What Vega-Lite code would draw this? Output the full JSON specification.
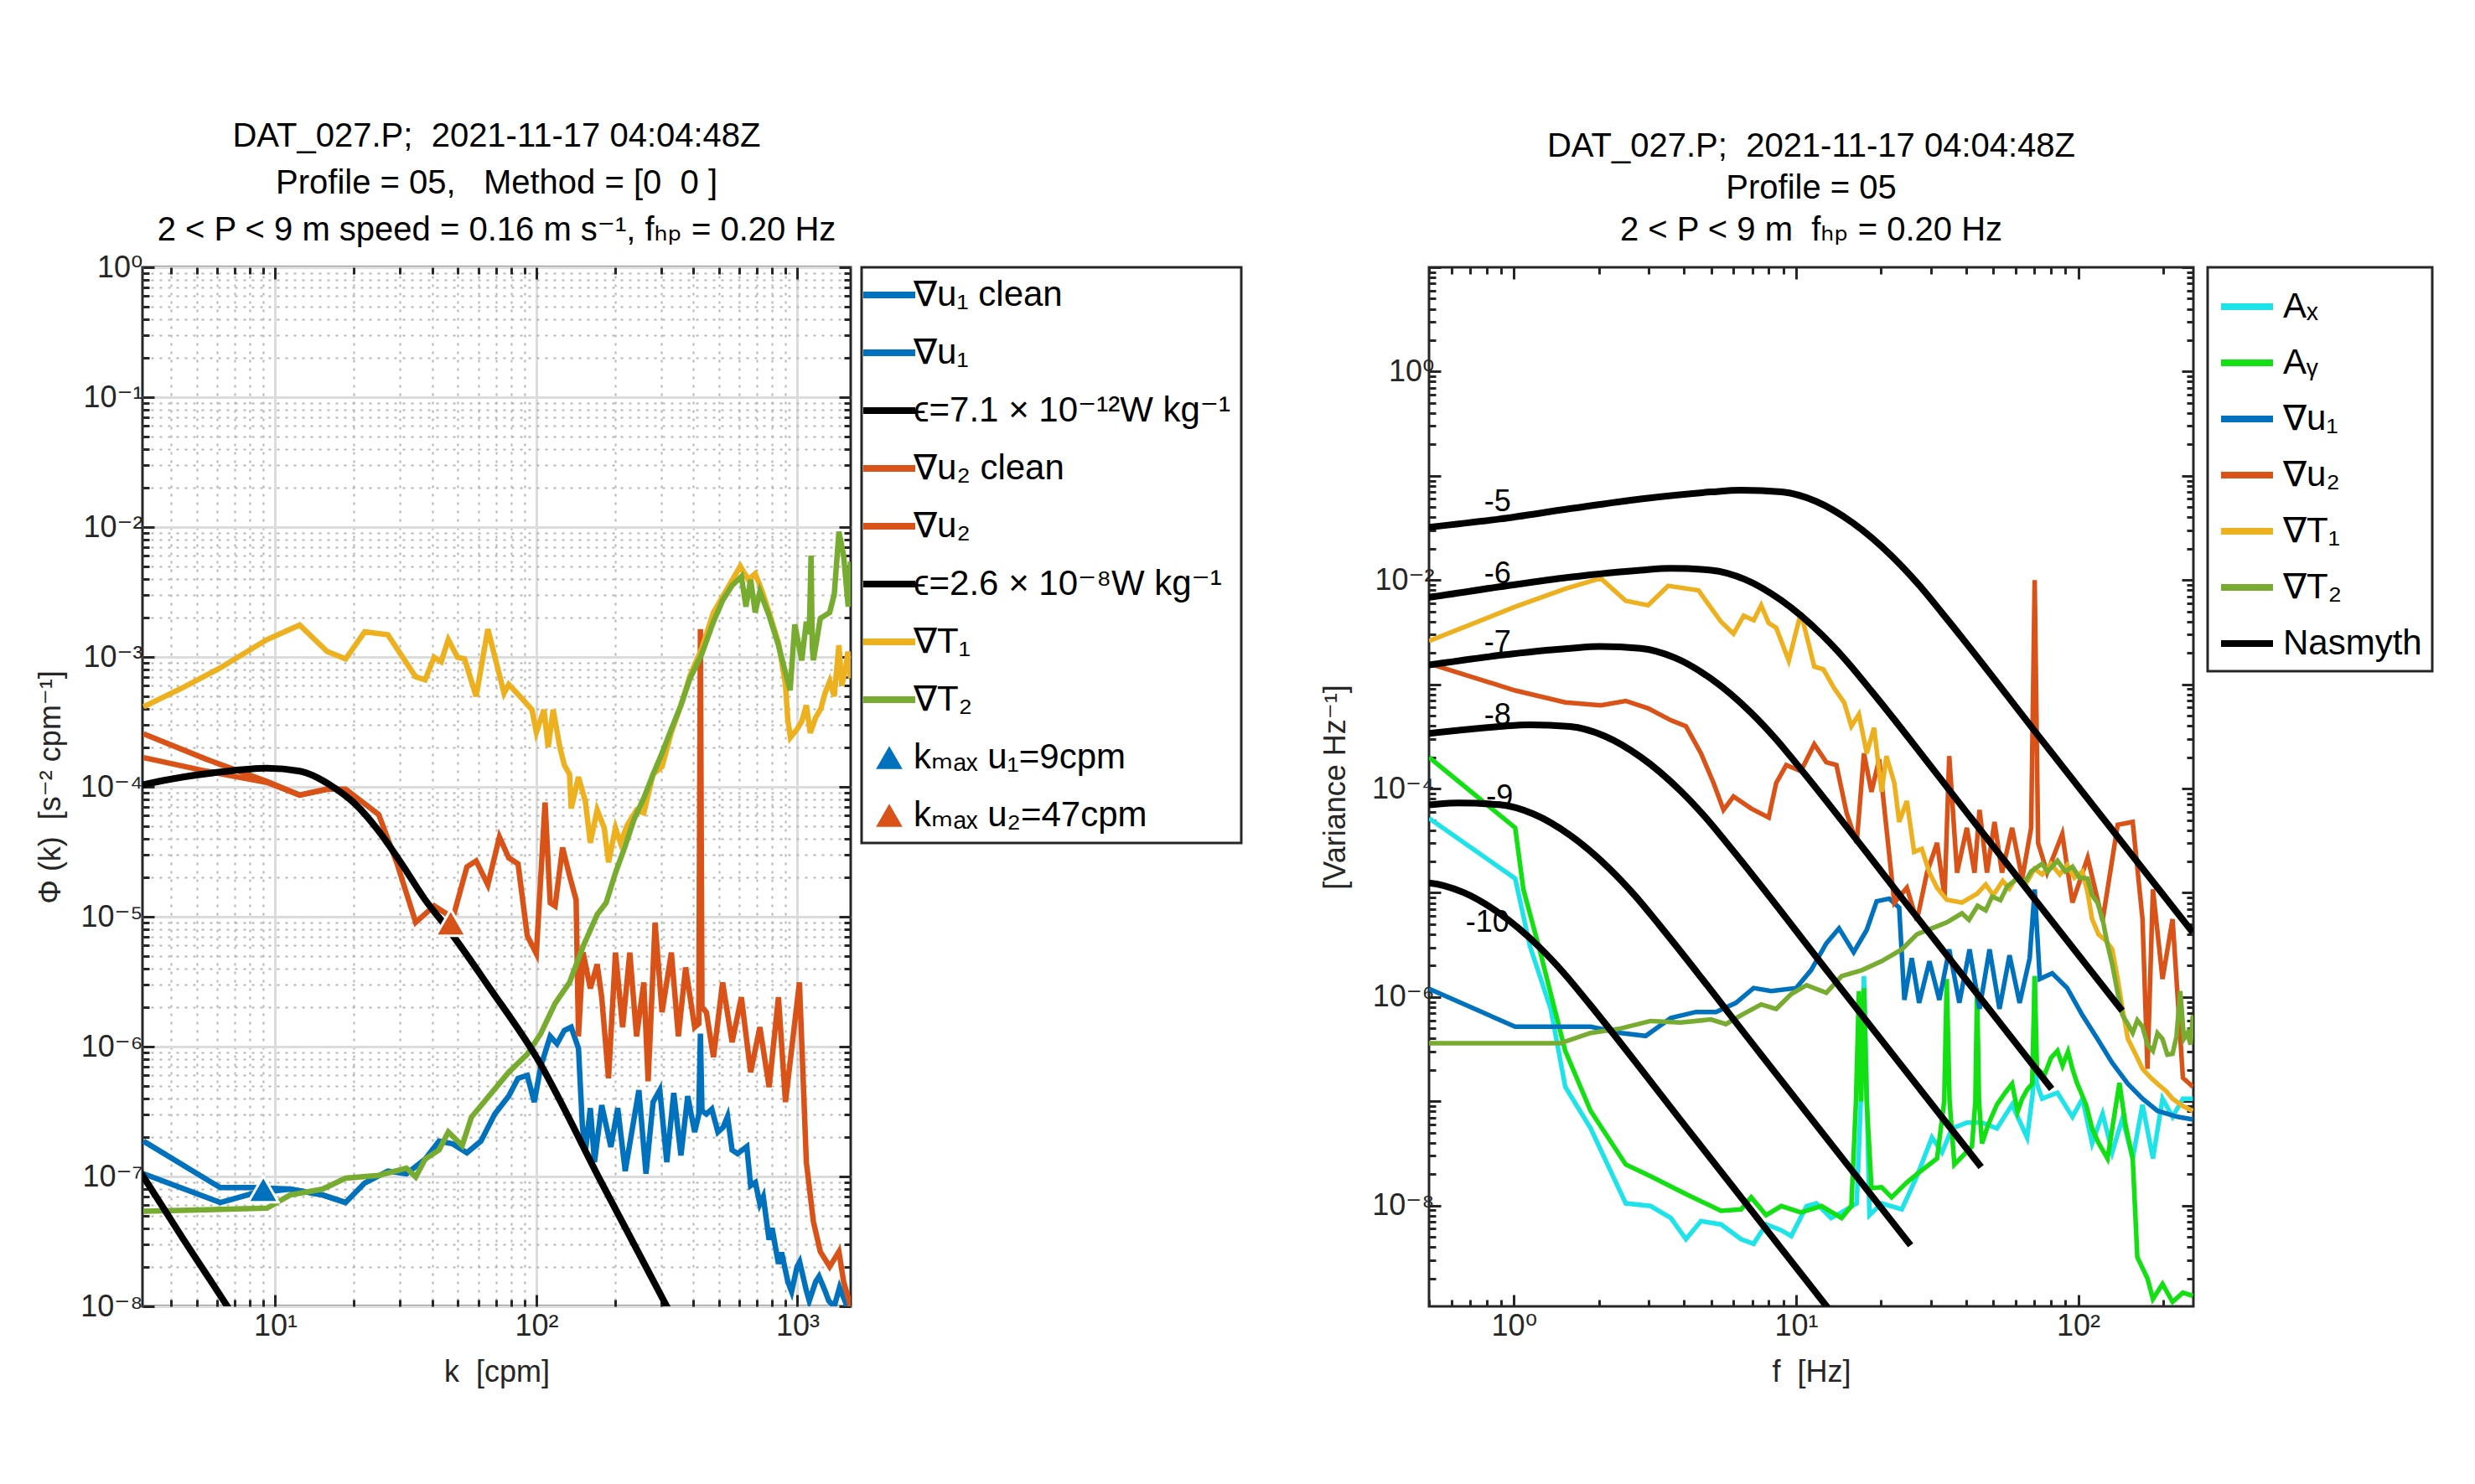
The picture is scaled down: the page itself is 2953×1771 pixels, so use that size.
{
  "$schema": "https://vega.github.io/schema/vega-lite/v6.json",
  "background": "white",
  "padding": {"left": 40, "top": 141, "right": 5, "bottom": 5},
  "spacing": 690,
  "bounds": "flush",
  "resolve": {"scale": {"color": "independent", "fill": "independent"}, "legend": {"color": "independent"}},
  "config": {
    "font": "Liberation Sans, DejaVu Sans",
    "view": {"stroke": "#262626", "strokeWidth": 3},
    "axis": {
      "domain": false,
      "labelFont": "Liberation Sans, DejaVu Sans",
      "titleFont": "Liberation Sans, DejaVu Sans",
      "labelFontSize": 36,
      "titleFontSize": 36,
      "titleFontWeight": "normal",
      "labelColor": "#262626",
      "titleColor": "#262626",
      "tickColor": "#262626",
      "tickWidth": 3,
      "labelOverlap": false,
      "labelBound": false,
      "labelFlush": false
    },
    "legend": {
      "labelFont": "Liberation Sans, DejaVu Sans",
      "labelFontSize": 42,
      "labelColor": "black",
      "symbolStrokeWidth": 8,
      "symbolSize": 3844,
      "labelOffset": 8,
      "padding": 12,
      "rowPadding": 27,
      "strokeColor": "#262626",
      "fillColor": "white",
      "labelLimit": 800
    },
    "title": {
      "font": "Liberation Sans, DejaVu Sans",
      "fontSize": 40,
      "fontWeight": "normal",
      "color": "black",
      "anchor": "middle",
      "offset": 6
    }
  },
  "datasets": {
    "L": [
      {"s":"u1c","k":3.13,"v":1.05e-7},{"s":"u1c","k":6.16,"v":6.3e-8},{"s":"u1c","k":8.2,"v":7.4e-8},{"s":"u1c","k":11.4,"v":8.0e-8},{"s":"u1c","k":15.2,"v":7.2e-8},{"s":"u1c","k":18.6,"v":6.3e-8},
      {"s":"u1","k":3.13,"v":1.87e-7},{"s":"u1","k":6.16,"v":8.2e-8},{"s":"u1","k":8.2,"v":8.2e-8},{"s":"u1","k":11.4,"v":8.0e-8},{"s":"u1","k":15.2,"v":7.2e-8},{"s":"u1","k":18.6,"v":6.3e-8},{"s":"u1","k":22.0,"v":8.9e-8},{"s":"u1","k":27.0,"v":1.1e-7},{"s":"u1","k":31.8,"v":1.05e-7},{"s":"u1","k":37.5,"v":1.36e-7},{"s":"u1","k":42.4,"v":1.87e-7},{"s":"u1","k":47.9,"v":1.78e-7},{"s":"u1","k":54.2,"v":1.52e-7},{"s":"u1","k":61.3,"v":1.87e-7},{"s":"u1","k":69.3,"v":3.02e-7},{"s":"u1","k":78.4,"v":4.16e-7},{"s":"u1","k":85.1,"v":5.7e-7},{"s":"u1","k":92.3,"v":6.0e-7},{"s":"u1","k":98.2,"v":3.74e-7},{"s":"u1","k":104,"v":7.06e-7},{"s":"u1","k":113,"v":1.2e-6},{"s":"u1","k":120,"v":1.05e-6},{"s":"u1","k":128,"v":1.33e-6},{"s":"u1","k":136,"v":1.41e-6},{"s":"u1","k":145,"v":9.7e-7},{"s":"u1","k":150,"v":2.5e-7},{"s":"u1","k":154,"v":1.52e-7},{"s":"u1","k":161,"v":3.36e-7},{"s":"u1","k":167,"v":1.29e-7},{"s":"u1","k":178,"v":3.54e-7},{"s":"u1","k":193,"v":1.69e-7},{"s":"u1","k":205,"v":3.36e-7},{"s":"u1","k":219,"v":1.1e-7},{"s":"u1","k":232,"v":2.2e-7},{"s":"u1","k":247,"v":4.62e-7},{"s":"u1","k":263,"v":1.05e-7},{"s":"u1","k":280,"v":3.74e-7},{"s":"u1","k":297,"v":4.62e-7},{"s":"u1","k":316,"v":1.29e-7},{"s":"u1","k":336,"v":4.4e-7},{"s":"u1","k":358,"v":1.45e-7},{"s":"u1","k":380,"v":4.16e-7},{"s":"u1","k":404,"v":2.2e-7},{"s":"u1","k":419,"v":3.0e-7},{"s":"u1","k":425,"v":1.26e-6},{"s":"u1","k":431,"v":3.2e-7},{"s":"u1","k":448,"v":3.02e-7},{"s":"u1","k":470,"v":3.3e-7},{"s":"u1","k":496,"v":2.2e-7},{"s":"u1","k":520,"v":2.4e-7},{"s":"u1","k":540,"v":2.9e-7},{"s":"u1","k":562,"v":1.6e-7},{"s":"u1","k":590,"v":1.5e-7},{"s":"u1","k":640,"v":1.7e-7},{"s":"u1","k":662,"v":8.5e-8},{"s":"u1","k":690,"v":9e-8},{"s":"u1","k":718,"v":6.15e-8},{"s":"u1","k":740,"v":7e-8},{"s":"u1","k":779,"v":3.26e-8},{"s":"u1","k":800,"v":4e-8},{"s":"u1","k":846,"v":2.13e-8},{"s":"u1","k":870,"v":2.6e-8},{"s":"u1","k":919,"v":1.55e-8},{"s":"u1","k":950,"v":1.3e-8},{"s":"u1","k":997,"v":2.02e-8},{"s":"u1","k":1020,"v":2.2e-8},{"s":"u1","k":1082,"v":1.32e-8},{"s":"u1","k":1110,"v":1.1e-8},{"s":"u1","k":1175,"v":1.55e-8},{"s":"u1","k":1210,"v":1.7e-8},{"s":"u1","k":1275,"v":1.32e-8},{"s":"u1","k":1320,"v":1.1e-8},{"s":"u1","k":1384,"v":1.0e-8},{"s":"u1","k":1450,"v":1.4e-8},{"s":"u1","k":1550,"v":1.0e-8},{"s":"u1","k":1600,"v":9e-9},
      {"s":"u2c","k":3.13,"v":1.68e-4},{"s":"u2c","k":5.45,"v":1.32e-4},{"s":"u2c","k":9.29,"v":1.08e-4},{"s":"u2c","k":12.4,"v":8.64e-5},{"s":"u2c","k":15.8,"v":9.6e-5},
      {"s":"u2","k":3.13,"v":2.56e-4},{"s":"u2","k":5.45,"v":1.63e-4},{"s":"u2","k":9.29,"v":1.1e-4},{"s":"u2","k":12.4,"v":8.64e-5},{"s":"u2","k":15.8,"v":9.6e-5},{"s":"u2","k":18.6,"v":9.6e-5},{"s":"u2","k":24.9,"v":6.12e-5},{"s":"u2","k":29.3,"v":2.55e-5},{"s":"u2","k":34.5,"v":9.06e-6},{"s":"u2","k":40.6,"v":1.21e-5},{"s":"u2","k":47.9,"v":9.8e-6},{"s":"u2","k":54.2,"v":2.42e-5},{"s":"u2","k":58.8,"v":2.69e-5},{"s":"u2","k":65.2,"v":1.76e-5},{"s":"u2","k":72.2,"v":4.11e-5},{"s":"u2","k":78.4,"v":2.84e-5},{"s":"u2","k":85.1,"v":2.55e-5},{"s":"u2","k":92.3,"v":7.14e-6},{"s":"u2","k":100,"v":5.2e-6},{"s":"u2","k":108,"v":7.57e-5},{"s":"u2","k":113,"v":1.28e-5},{"s":"u2","k":118,"v":1.21e-5},{"s":"u2","k":126,"v":3.41e-5},{"s":"u2","k":134,"v":2.07e-5},{"s":"u2","k":142,"v":1.35e-5},{"s":"u2","k":145,"v":1.2e-6},{"s":"u2","k":151,"v":5.3e-6},{"s":"u2","k":161,"v":2.8e-6},{"s":"u2","k":171,"v":4.3e-6},{"s":"u2","k":178,"v":2.4e-6},{"s":"u2","k":189,"v":5.7e-7},{"s":"u2","k":201,"v":5.3e-6},{"s":"u2","k":214,"v":1.41e-6},{"s":"u2","k":228,"v":5.3e-6},{"s":"u2","k":242,"v":1.2e-6},{"s":"u2","k":258,"v":3.12e-6},{"s":"u2","k":268,"v":5.4e-7},{"s":"u2","k":285,"v":9e-6},{"s":"u2","k":303,"v":1.84e-6},{"s":"u2","k":329,"v":5.3e-6},{"s":"u2","k":350,"v":1.2e-6},{"s":"u2","k":373,"v":4.07e-6},{"s":"u2","k":404,"v":1.41e-6},{"s":"u2","k":419,"v":1.5e-6},{"s":"u2","k":425,"v":1.64e-3},{"s":"u2","k":431,"v":2e-6},{"s":"u2","k":448,"v":1.84e-6},{"s":"u2","k":477,"v":8.3e-7},{"s":"u2","k":517,"v":3.12e-6},{"s":"u2","k":562,"v":1.08e-6},{"s":"u2","k":610,"v":2.4e-6},{"s":"u2","k":662,"v":6.35e-7},{"s":"u2","k":718,"v":1.41e-6},{"s":"u2","k":779,"v":4.88e-7},{"s":"u2","k":846,"v":2.4e-6},{"s":"u2","k":900,"v":3.74e-7},{"s":"u2","k":957,"v":1.08e-6},{"s":"u2","k":1018,"v":3.12e-6},{"s":"u2","k":1082,"v":1.29e-7},{"s":"u2","k":1151,"v":4.5e-8},{"s":"u2","k":1224,"v":2.64e-8},{"s":"u2","k":1329,"v":2.02e-8},{"s":"u2","k":1442,"v":2.64e-8},{"s":"u2","k":1503,"v":1.55e-8},{"s":"u2","k":1598,"v":1.0e-8},
      {"s":"T1","k":3.13,"v":4.13e-4},{"s":"T1","k":4.44,"v":5.83e-4},{"s":"T1","k":6.16,"v":8.24e-4},{"s":"T1","k":9.29,"v":1.36e-3},{"s":"T1","k":12.4,"v":1.76e-3},{"s":"T1","k":15.8,"v":1.1e-3},{"s":"T1","k":18.6,"v":9.66e-4},{"s":"T1","k":22.0,"v":1.56e-3},{"s":"T1","k":27.0,"v":1.48e-3},{"s":"T1","k":34.5,"v":7.03e-4},{"s":"T1","k":37.5,"v":6.67e-4},{"s":"T1","k":40.6,"v":9.93e-4},{"s":"T1","k":43.2,"v":9.17e-4},{"s":"T1","k":46.0,"v":1.36e-3},{"s":"T1","k":49.9,"v":9.93e-4},{"s":"T1","k":53.1,"v":9.66e-4},{"s":"T1","k":58.8,"v":4.97e-4},{"s":"T1","k":65.2,"v":1.64e-3},{"s":"T1","k":75.2,"v":5.25e-4},{"s":"T1","k":78.4,"v":6.15e-4},{"s":"T1","k":88.6,"v":4.72e-4},{"s":"T1","k":96.2,"v":3.92e-4},{"s":"T1","k":100,"v":2.63e-4},{"s":"T1","k":107,"v":3.92e-4},{"s":"T1","k":111,"v":2.02e-4},{"s":"T1","k":116,"v":3.92e-4},{"s":"T1","k":123,"v":2.02e-4},{"s":"T1","k":128,"v":1.47e-4},{"s":"T1","k":134,"v":1.25e-4},{"s":"T1","k":136,"v":6.81e-5},{"s":"T1","k":145,"v":1.19e-4},{"s":"T1","k":154,"v":7.78e-5},{"s":"T1","k":161,"v":3.7e-5},{"s":"T1","k":171,"v":6.63e-5},{"s":"T1","k":182,"v":4.82e-5},{"s":"T1","k":189,"v":2.62e-5},{"s":"T1","k":201,"v":4.82e-5},{"s":"T1","k":210,"v":3.7e-5},{"s":"T1","k":223,"v":5.08e-5},{"s":"T1","k":242,"v":6.63e-5},{"s":"T1","k":258,"v":6.3e-5},{"s":"T1","k":280,"v":1.25e-4},{"s":"T1","k":303,"v":1.43e-4},{"s":"T1","k":329,"v":2.63e-4},{"s":"T1","k":358,"v":4.25e-4},{"s":"T1","k":388,"v":7.21e-4},{"s":"T1","k":430,"v":1.16e-3},{"s":"T1","k":477,"v":2.2e-3},{"s":"T1","k":539,"v":3.36e-3},{"s":"T1","k":604,"v":5.0e-3},{"s":"T1","k":648,"v":3.94e-3},{"s":"T1","k":689,"v":4.38e-3},{"s":"T1","k":733,"v":3.19e-3},{"s":"T1","k":779,"v":2.2e-3},{"s":"T1","k":846,"v":1.29e-3},{"s":"T1","k":900,"v":6.15e-4},{"s":"T1","k":919,"v":3.26e-4},{"s":"T1","k":940,"v":2.4e-4},{"s":"T1","k":997,"v":2.78e-4},{"s":"T1","k":1040,"v":3.2e-4},{"s":"T1","k":1082,"v":4.25e-4},{"s":"T1","k":1120,"v":2.6e-4},{"s":"T1","k":1175,"v":3.43e-4},{"s":"T1","k":1230,"v":4.0e-4},{"s":"T1","k":1275,"v":5.25e-4},{"s":"T1","k":1330,"v":6.5e-4},{"s":"T1","k":1384,"v":4.97e-4},{"s":"T1","k":1442,"v":1.23e-3},{"s":"T1","k":1480,"v":6.0e-4},{"s":"T1","k":1534,"v":8.46e-4},{"s":"T1","k":1560,"v":1.1e-3},{"s":"T1","k":1598,"v":6.84e-4},
      {"s":"T2","k":3.13,"v":5.4e-8},{"s":"T2","k":9.29,"v":5.7e-8},{"s":"T2","k":11.4,"v":7.2e-8},{"s":"T2","k":15.2,"v":8.0e-8},{"s":"T2","k":18.6,"v":9.7e-8},{"s":"T2","k":24.9,"v":1.02e-7},{"s":"T2","k":31.8,"v":1.16e-7},{"s":"T2","k":34.5,"v":9.9e-8},{"s":"T2","k":37.5,"v":1.36e-7},{"s":"T2","k":42.4,"v":1.6e-7},{"s":"T2","k":46.0,"v":2.2e-7},{"s":"T2","k":52.0,"v":1.73e-7},{"s":"T2","k":56.4,"v":2.86e-7},{"s":"T2","k":66.5,"v":4.26e-7},{"s":"T2","k":78.4,"v":6.35e-7},{"s":"T2","k":92.3,"v":8.73e-7},{"s":"T2","k":104,"v":1.26e-6},{"s":"T2","k":118,"v":2.15e-6},{"s":"T2","k":134,"v":3.12e-6},{"s":"T2","k":151,"v":5.9e-6},{"s":"T2","k":171,"v":1.04e-5},{"s":"T2","k":185,"v":1.28e-5},{"s":"T2","k":201,"v":2.18e-5},{"s":"T2","k":219,"v":3.51e-5},{"s":"T2","k":237,"v":5.65e-5},{"s":"T2","k":258,"v":8.2e-5},{"s":"T2","k":280,"v":1.25e-4},{"s":"T2","k":303,"v":1.82e-4},{"s":"T2","k":329,"v":2.78e-4},{"s":"T2","k":358,"v":4.25e-4},{"s":"T2","k":388,"v":6.84e-4},{"s":"T2","k":430,"v":1.05e-3},{"s":"T2","k":477,"v":1.87e-3},{"s":"T2","k":517,"v":2.72e-3},{"s":"T2","k":562,"v":3.55e-3},{"s":"T2","k":610,"v":4.16e-3},{"s":"T2","k":635,"v":2.44e-3},{"s":"T2","k":662,"v":3.94e-3},{"s":"T2","k":689,"v":2.2e-3},{"s":"T2","k":718,"v":3.19e-3},{"s":"T2","k":779,"v":2.08e-3},{"s":"T2","k":846,"v":1.23e-3},{"s":"T2","k":900,"v":7.6e-4},{"s":"T2","k":938,"v":5.53e-4},{"s":"T2","k":977,"v":1.78e-3},{"s":"T2","k":1039,"v":9.42e-4},{"s":"T2","k":1082,"v":1.87e-3},{"s":"T2","k":1110,"v":1.5e-3},{"s":"T2","k":1128,"v":6.03e-3},{"s":"T2","k":1140,"v":1.2e-3},{"s":"T2","k":1151,"v":9.42e-4},{"s":"T2","k":1224,"v":1.98e-3},{"s":"T2","k":1329,"v":2.2e-3},{"s":"T2","k":1384,"v":3.03e-3},{"s":"T2","k":1442,"v":9.2e-3},{"s":"T2","k":1503,"v":6.03e-3},{"s":"T2","k":1565,"v":2.44e-3},{"s":"T2","k":1598,"v":5.42e-3}
    ],
    "E": [
      {"s":"e1","k":3.0,"v":1.13e-7},{"s":"e1","k":3.13,"v":9.9e-8},{"s":"e1","k":4.44,"v":3.3e-8},{"s":"e1","k":6.55,"v":1.0e-8},{"s":"e1","k":7.0,"v":8.1e-9},
      {"s":"e2","k":3.0,"v":1.02e-4},{"s":"e2","k":3.13,"v":1.04e-4},{"s":"e2","k":4.44,"v":1.19e-4},{"s":"e2","k":6.16,"v":1.3e-4},{"s":"e2","k":9.29,"v":1.39e-4},{"s":"e2","k":12.4,"v":1.32e-4},{"s":"e2","k":16.5,"v":1.01e-4},{"s":"e2","k":20.2,"v":7.4e-5},{"s":"e2","k":24.9,"v":4.57e-5},{"s":"e2","k":30.5,"v":2.55e-5},{"s":"e2","k":37.5,"v":1.35e-5},{"s":"e2","k":46,"v":8.0e-6},{"s":"e2","k":66.5,"v":2.8e-6},{"s":"e2","k":100,"v":8.3e-7},{"s":"e2","k":178,"v":8.9e-8},{"s":"e2","k":316,"v":1.0e-8},{"s":"e2","k":340,"v":7.6e-9}
    ],
    "M": [
      {"s":"k1","k":9,"v":8.0e-8},
      {"s":"k2","k":47,"v":9.0e-6}
    ],
    "R": [
      {"s":"Ax","f":0.5,"v":5.2e-5},{"s":"Ax","f":1.01,"v":1.37e-5},{"s":"Ax","f":1.14,"v":3.07e-6},{"s":"Ax","f":1.35,"v":7.7e-7},{"s":"Ax","f":1.52,"v":1.38e-7},{"s":"Ax","f":1.87,"v":5.5e-8},{"s":"Ax","f":2.49,"v":1.05e-8},{"s":"Ax","f":3.05,"v":9.9e-9},{"s":"Ax","f":3.6,"v":7.6e-9},{"s":"Ax","f":4.07,"v":4.77e-9},{"s":"Ax","f":4.6,"v":7.1e-9},{"s":"Ax","f":5.42,"v":6.6e-9},{"s":"Ax","f":6.38,"v":4.77e-9},{"s":"Ax","f":7.07,"v":4.3e-9},{"s":"Ax","f":7.83,"v":6.6e-9},{"s":"Ax","f":8.86,"v":5.8e-9},{"s":"Ax","f":9.61,"v":5.1e-9},{"s":"Ax","f":10.9,"v":9.9e-9},{"s":"Ax","f":11.8,"v":1.05e-8},{"s":"Ax","f":13.3,"v":7.6e-9},{"s":"Ax","f":14.5,"v":8.6e-9},{"s":"Ax","f":16.4,"v":1.05e-8},{"s":"Ax","f":17.0,"v":1.2e-7},{"s":"Ax","f":17.4,"v":1.59e-6},{"s":"Ax","f":17.8,"v":1.2e-7},{"s":"Ax","f":18.2,"v":8.1e-9},{"s":"Ax","f":20.1,"v":1.05e-8},{"s":"Ax","f":23.7,"v":9.2e-9},{"s":"Ax","f":26.8,"v":1.91e-8},{"s":"Ax","f":30.3,"v":4.5e-8},{"s":"Ax","f":32.9,"v":3.24e-8},{"s":"Ax","f":35.7,"v":5.5e-8},{"s":"Ax","f":40.3,"v":6.25e-8},{"s":"Ax","f":45.6,"v":6.25e-8},{"s":"Ax","f":51.5,"v":5.5e-8},{"s":"Ax","f":58.3,"v":9.3e-8},{"s":"Ax","f":65.9,"v":4.5e-8},{"s":"Ax","f":69.0,"v":1.2e-7},{"s":"Ax","f":70.1,"v":1.59e-6},{"s":"Ax","f":71.2,"v":1.5e-7},{"s":"Ax","f":74.5,"v":1.06e-7},{"s":"Ax","f":84.4,"v":1.21e-7},{"s":"Ax","f":95.4,"v":7.1e-8},{"s":"Ax","f":103.5,"v":1.06e-7},{"s":"Ax","f":112,"v":3.95e-8},{"s":"Ax","f":122,"v":7.6e-8},{"s":"Ax","f":132,"v":3.24e-8},{"s":"Ax","f":143.5,"v":6.9e-8},{"s":"Ax","f":156,"v":2.83e-8},{"s":"Ax","f":169,"v":9.3e-8},{"s":"Ax","f":184,"v":2.83e-8},{"s":"Ax","f":199,"v":1.06e-7},{"s":"Ax","f":216,"v":7.1e-8},{"s":"Ax","f":235,"v":1.06e-7},{"s":"Ax","f":255,"v":1.06e-7},
      {"s":"Ay","f":0.5,"v":2.0e-4},{"s":"Ay","f":1.01,"v":4.2e-5},{"s":"Ay","f":1.08,"v":1.08e-5},{"s":"Ay","f":1.24,"v":2.69e-6},{"s":"Ay","f":1.52,"v":3.05e-7},{"s":"Ay","f":1.87,"v":8.1e-8},{"s":"Ay","f":2.49,"v":2.48e-8},{"s":"Ay","f":3.05,"v":1.91e-8},{"s":"Ay","f":4.07,"v":1.29e-8},{"s":"Ay","f":5.42,"v":8.9e-9},{"s":"Ay","f":6.38,"v":9.2e-9},{"s":"Ay","f":6.93,"v":1.2e-8},{"s":"Ay","f":7.83,"v":8.1e-9},{"s":"Ay","f":8.86,"v":9.9e-9},{"s":"Ay","f":10.4,"v":8.6e-9},{"s":"Ay","f":12.3,"v":9.9e-9},{"s":"Ay","f":14.5,"v":7.6e-9},{"s":"Ay","f":15.7,"v":9.9e-9},{"s":"Ay","f":16.3,"v":1e-7},{"s":"Ay","f":16.7,"v":1.14e-6},{"s":"Ay","f":17.0,"v":1e-7},{"s":"Ay","f":17.4,"v":1.22e-6},{"s":"Ay","f":17.8,"v":1e-7},{"s":"Ay","f":18.5,"v":1.47e-8},{"s":"Ay","f":20.1,"v":1.5e-8},{"s":"Ay","f":21.8,"v":1.2e-8},{"s":"Ay","f":24.7,"v":1.67e-8},{"s":"Ay","f":27.9,"v":2.18e-8},{"s":"Ay","f":31.6,"v":2.83e-8},{"s":"Ay","f":33.5,"v":1e-7},{"s":"Ay","f":34.2,"v":1.49e-6},{"s":"Ay","f":35.0,"v":1e-7},{"s":"Ay","f":36.4,"v":2.48e-8},{"s":"Ay","f":42.0,"v":3.69e-8},{"s":"Ay","f":43.2,"v":1e-7},{"s":"Ay","f":43.8,"v":1.22e-6},{"s":"Ay","f":44.5,"v":1e-7},{"s":"Ay","f":45.6,"v":3.95e-8},{"s":"Ay","f":48,"v":6e-8},{"s":"Ay","f":51.5,"v":9.3e-8},{"s":"Ay","f":55,"v":1.2e-7},{"s":"Ay","f":58.3,"v":1.47e-7},{"s":"Ay","f":61,"v":8e-8},{"s":"Ay","f":63.3,"v":1.06e-7},{"s":"Ay","f":66,"v":1.3e-7},{"s":"Ay","f":68.7,"v":1.47e-7},{"s":"Ay","f":70.1,"v":1.59e-6},{"s":"Ay","f":71.4,"v":2.05e-7},{"s":"Ay","f":76,"v":1.8e-7},{"s":"Ay","f":80,"v":2.6e-7},{"s":"Ay","f":84.4,"v":3.05e-7},{"s":"Ay","f":88,"v":2.2e-7},{"s":"Ay","f":92,"v":3e-7},{"s":"Ay","f":95.4,"v":2.05e-7},{"s":"Ay","f":99,"v":1.5e-7},{"s":"Ay","f":103.5,"v":1.13e-7},{"s":"Ay","f":107,"v":9e-8},{"s":"Ay","f":112,"v":5.5e-8},{"s":"Ay","f":118,"v":4e-8},{"s":"Ay","f":127,"v":2.83e-8},{"s":"Ay","f":140,"v":1.5e-7},{"s":"Ay","f":147,"v":6e-8},{"s":"Ay","f":156,"v":2.83e-8},{"s":"Ay","f":162,"v":3.2e-9},{"s":"Ay","f":176,"v":2.0e-9},{"s":"Ay","f":184,"v":1.27e-9},{"s":"Ay","f":199,"v":1.77e-9},{"s":"Ay","f":216,"v":1.19e-9},{"s":"Ay","f":235,"v":1.46e-9},{"s":"Ay","f":255,"v":1.36e-9},
      {"s":"u1","f":0.5,"v":1.2e-6},{"s":"u1","f":1.01,"v":5.2e-7},{"s":"u1","f":1.87,"v":5.2e-7},{"s":"u1","f":2.39,"v":4.53e-7},{"s":"u1","f":2.93,"v":4.24e-7},{"s":"u1","f":3.6,"v":6.3e-7},{"s":"u1","f":4.42,"v":7.2e-7},{"s":"u1","f":5.2,"v":7.2e-7},{"s":"u1","f":6.12,"v":8.8e-7},{"s":"u1","f":7.07,"v":1.22e-6},{"s":"u1","f":8.16,"v":1.14e-6},{"s":"u1","f":10.0,"v":1.22e-6},{"s":"u1","f":11.3,"v":1.81e-6},{"s":"u1","f":12.8,"v":3.28e-6},{"s":"u1","f":14.2,"v":4.56e-6},{"s":"u1","f":16.0,"v":2.69e-6},{"s":"u1","f":17.8,"v":4.41e-6},{"s":"u1","f":19.3,"v":8.3e-6},{"s":"u1","f":21.4,"v":8.8e-6},{"s":"u1","f":23.2,"v":7.2e-6},{"s":"u1","f":24.2,"v":9.4e-7},{"s":"u1","f":25.7,"v":2.36e-6},{"s":"u1","f":27.3,"v":8.8e-7},{"s":"u1","f":29.7,"v":2.21e-6},{"s":"u1","f":32.2,"v":9.4e-7},{"s":"u1","f":34.9,"v":2.87e-6},{"s":"u1","f":37.9,"v":8.8e-7},{"s":"u1","f":41.2,"v":2.87e-6},{"s":"u1","f":44.7,"v":7.7e-7},{"s":"u1","f":48.5,"v":2.87e-6},{"s":"u1","f":52.6,"v":7.7e-7},{"s":"u1","f":57.1,"v":2.52e-6},{"s":"u1","f":62.0,"v":8.8e-7},{"s":"u1","f":67.3,"v":2.36e-6},{"s":"u1","f":70.1,"v":1.08e-5},{"s":"u1","f":73.1,"v":1.49e-6},{"s":"u1","f":80.9,"v":1.69e-6},{"s":"u1","f":91.4,"v":1.22e-6},{"s":"u1","f":103.5,"v":6.7e-7},{"s":"u1","f":117,"v":3.97e-7},{"s":"u1","f":132,"v":2.34e-7},{"s":"u1","f":150,"v":1.47e-7},{"s":"u1","f":169,"v":1.06e-7},{"s":"u1","f":191,"v":8.1e-8},{"s":"u1","f":225,"v":7.1e-8},{"s":"u1","f":255,"v":6.7e-8},
      {"s":"u2","f":0.5,"v":1.58e-3},{"s":"u2","f":1.01,"v":8.73e-4},{"s":"u2","f":1.52,"v":6.71e-4},{"s":"u2","f":2.03,"v":6.28e-4},{"s":"u2","f":2.49,"v":6.93e-4},{"s":"u2","f":2.99,"v":5.88e-4},{"s":"u2","f":3.6,"v":4.52e-4},{"s":"u2","f":4.07,"v":3.96e-4},{"s":"u2","f":4.6,"v":2.18e-4},{"s":"u2","f":5.1,"v":1.13e-4},{"s":"u2","f":5.53,"v":6.24e-5},{"s":"u2","f":6.0,"v":8.4e-5},{"s":"u2","f":6.93,"v":6.44e-5},{"s":"u2","f":8.0,"v":5.28e-5},{"s":"u2","f":8.5,"v":1.13e-4},{"s":"u2","f":9.23,"v":1.68e-4},{"s":"u2","f":10.4,"v":1.47e-4},{"s":"u2","f":11.6,"v":2.66e-4},{"s":"u2","f":12.8,"v":1.79e-4},{"s":"u2","f":13.9,"v":1.68e-4},{"s":"u2","f":15.1,"v":5.84e-5},{"s":"u2","f":16.4,"v":3.01e-5},{"s":"u2","f":17.4,"v":2.18e-4},{"s":"u2","f":18.5,"v":9.3e-5},{"s":"u2","f":19.7,"v":1.91e-4},{"s":"u2","f":20.9,"v":4.2e-5},{"s":"u2","f":22.3,"v":8.05e-6},{"s":"u2","f":24.7,"v":1.12e-5},{"s":"u2","f":26.8,"v":5.4e-6},{"s":"u2","f":29.1,"v":1.56e-5},{"s":"u2","f":31.6,"v":3.01e-5},{"s":"u2","f":33.6,"v":9.2e-6},{"s":"u2","f":34.9,"v":2.05e-4},{"s":"u2","f":37.2,"v":1.56e-5},{"s":"u2","f":40.3,"v":4.2e-5},{"s":"u2","f":42.9,"v":1.56e-5},{"s":"u2","f":44.7,"v":6.24e-5},{"s":"u2","f":47.5,"v":1.56e-5},{"s":"u2","f":50.5,"v":4.79e-5},{"s":"u2","f":53.7,"v":1.56e-5},{"s":"u2","f":58.3,"v":4.2e-5},{"s":"u2","f":63.3,"v":1.37e-5},{"s":"u2","f":68.1,"v":4.2e-5},{"s":"u2","f":70.1,"v":1.0e-2},{"s":"u2","f":72.1,"v":3.01e-5},{"s":"u2","f":77.6,"v":1.56e-5},{"s":"u2","f":87.8,"v":3.67e-5},{"s":"u2","f":95.4,"v":8.05e-6},{"s":"u2","f":108,"v":2.17e-5},{"s":"u2","f":122,"v":5.4e-6},{"s":"u2","f":138,"v":4.49e-5},{"s":"u2","f":156,"v":4.79e-5},{"s":"u2","f":169,"v":5.6e-6},{"s":"u2","f":176,"v":2.05e-7},{"s":"u2","f":184,"v":1.08e-5},{"s":"u2","f":199,"v":1.49e-6},{"s":"u2","f":216,"v":5.6e-6},{"s":"u2","f":235,"v":1.68e-7},{"s":"u2","f":255,"v":1.38e-7},
      {"s":"T1","f":0.5,"v":2.6e-3},{"s":"T1","f":1.01,"v":5.54e-3},{"s":"T1","f":1.52,"v":8.24e-3},{"s":"T1","f":2.03,"v":1.04e-2},{"s":"T1","f":2.49,"v":6.32e-3},{"s":"T1","f":2.99,"v":5.73e-3},{"s":"T1","f":3.52,"v":8.8e-3},{"s":"T1","f":4.51,"v":7.96e-3},{"s":"T1","f":5.42,"v":3.98e-3},{"s":"T1","f":6.0,"v":3.06e-3},{"s":"T1","f":6.52,"v":4.55e-3},{"s":"T1","f":7.08,"v":4.12e-3},{"s":"T1","f":7.52,"v":5.73e-3},{"s":"T1","f":8.0,"v":3.86e-3},{"s":"T1","f":8.5,"v":3.49e-3},{"s":"T1","f":9.42,"v":1.69e-3},{"s":"T1","f":10.4,"v":4.86e-3},{"s":"T1","f":11.6,"v":1.48e-3},{"s":"T1","f":12.5,"v":1.39e-3},{"s":"T1","f":13.6,"v":9.3e-4},{"s":"T1","f":14.8,"v":6.7e-4},{"s":"T1","f":15.7,"v":3.96e-4},{"s":"T1","f":16.7,"v":5.15e-4},{"s":"T1","f":17.8,"v":2.18e-4},{"s":"T1","f":18.9,"v":3.83e-4},{"s":"T1","f":20.1,"v":9.3e-5},{"s":"T1","f":20.9,"v":2.05e-4},{"s":"T1","f":22.3,"v":1.13e-4},{"s":"T1","f":23.2,"v":4.79e-5},{"s":"T1","f":24.7,"v":7.6e-5},{"s":"T1","f":26.2,"v":2.47e-5},{"s":"T1","f":27.9,"v":2.64e-5},{"s":"T1","f":29.7,"v":1.56e-5},{"s":"T1","f":31.6,"v":1.12e-5},{"s":"T1","f":34.2,"v":8.6e-6},{"s":"T1","f":38.7,"v":8.05e-6},{"s":"T1","f":43.8,"v":9.8e-6},{"s":"T1","f":47,"v":1.2e-5},{"s":"T1","f":50,"v":9.5e-6},{"s":"T1","f":54,"v":1.3e-5},{"s":"T1","f":57,"v":1.1e-5},{"s":"T1","f":60.8,"v":1.45e-5},{"s":"T1","f":65,"v":1.2e-5},{"s":"T1","f":70,"v":1.7e-5},{"s":"T1","f":74.5,"v":1.5e-5},{"s":"T1","f":80,"v":1.9e-5},{"s":"T1","f":86,"v":1.5e-5},{"s":"T1","f":91.4,"v":1.85e-5},{"s":"T1","f":97,"v":1.4e-5},{"s":"T1","f":103.5,"v":1.6e-5},{"s":"T1","f":108,"v":1.0e-5},{"s":"T1","f":112,"v":5.6e-6},{"s":"T1","f":118,"v":4e-6},{"s":"T1","f":125,"v":3.5e-6},{"s":"T1","f":132,"v":2.87e-6},{"s":"T1","f":138,"v":1.5e-6},{"s":"T1","f":143.5,"v":7.7e-7},{"s":"T1","f":150,"v":3.97e-7},{"s":"T1","f":160,"v":2.8e-7},{"s":"T1","f":169,"v":2.05e-7},{"s":"T1","f":180,"v":1.7e-7},{"s":"T1","f":191,"v":1.47e-7},{"s":"T1","f":205,"v":1.25e-7},{"s":"T1","f":216,"v":1.06e-7},{"s":"T1","f":235,"v":9e-8},{"s":"T1","f":255,"v":8.1e-8},
      {"s":"T2","f":0.5,"v":3.6e-7},{"s":"T2","f":1.46,"v":3.6e-7},{"s":"T2","f":1.87,"v":4.53e-7},{"s":"T2","f":2.39,"v":5.0e-7},{"s":"T2","f":3.05,"v":5.9e-7},{"s":"T2","f":3.9,"v":5.7e-7},{"s":"T2","f":4.99,"v":6.1e-7},{"s":"T2","f":5.64,"v":5.5e-7},{"s":"T2","f":6.38,"v":6.7e-7},{"s":"T2","f":7.52,"v":8.5e-7},{"s":"T2","f":8.5,"v":7.7e-7},{"s":"T2","f":9.61,"v":1.07e-6},{"s":"T2","f":10.9,"v":1.3e-6},{"s":"T2","f":12.8,"v":1.1e-6},{"s":"T2","f":14.5,"v":1.59e-6},{"s":"T2","f":17.1,"v":1.81e-6},{"s":"T2","f":20.1,"v":2.21e-6},{"s":"T2","f":23.7,"v":2.87e-6},{"s":"T2","f":26.8,"v":4.0e-6},{"s":"T2","f":30.3,"v":4.56e-6},{"s":"T2","f":34.2,"v":5.2e-6},{"s":"T2","f":38.7,"v":6.35e-6},{"s":"T2","f":41,"v":5.5e-6},{"s":"T2","f":44,"v":7.5e-6},{"s":"T2","f":47,"v":6.8e-6},{"s":"T2","f":49.5,"v":9.2e-6},{"s":"T2","f":53,"v":8.5e-6},{"s":"T2","f":56,"v":1.15e-5},{"s":"T2","f":60.8,"v":1.37e-5},{"s":"T2","f":64,"v":1.2e-5},{"s":"T2","f":68,"v":1.6e-5},{"s":"T2","f":74.5,"v":1.9e-5},{"s":"T2","f":78,"v":1.6e-5},{"s":"T2","f":84.4,"v":2.03e-5},{"s":"T2","f":90,"v":1.6e-5},{"s":"T2","f":95.4,"v":1.78e-5},{"s":"T2","f":101,"v":1.4e-5},{"s":"T2","f":108,"v":1.37e-5},{"s":"T2","f":112,"v":9.5e-6},{"s":"T2","f":117,"v":8.05e-6},{"s":"T2","f":122,"v":5.6e-6},{"s":"T2","f":127,"v":3.2e-6},{"s":"T2","f":132,"v":2.06e-6},{"s":"T2","f":138,"v":1.1e-6},{"s":"T2","f":143.5,"v":6.7e-7},{"s":"T2","f":150,"v":5.5e-7},{"s":"T2","f":156,"v":4.53e-7},{"s":"T2","f":162,"v":6e-7},{"s":"T2","f":169,"v":5.2e-7},{"s":"T2","f":176,"v":3.5e-7},{"s":"T2","f":184,"v":3.05e-7},{"s":"T2","f":191,"v":4.5e-7},{"s":"T2","f":199,"v":3.97e-7},{"s":"T2","f":207,"v":2.8e-7},{"s":"T2","f":216,"v":2.86e-7},{"s":"T2","f":223,"v":4.2e-7},{"s":"T2","f":230,"v":1.14e-6},{"s":"T2","f":237,"v":4.0e-7},{"s":"T2","f":244,"v":4.53e-7},{"s":"T2","f":250,"v":3.5e-7},{"s":"T2","f":255,"v":6.7e-7}
    ],
    "N": [
      {"s":"Nas","n":5,"f":0.5,"v":0.0321},{"s":"Nas","n":5,"f":0.889,"v":0.0385},{"s":"Nas","n":5,"f":1.581,"v":0.0484},{"s":"Nas","n":5,"f":2.812,"v":0.06},{"s":"Nas","n":5,"f":5.0,"v":0.07},{"s":"Nas","n":5,"f":6.383,"v":0.0728},{"s":"Nas","n":5,"f":8.892,"v":0.07},{"s":"Nas","n":5,"f":11.75,"v":0.0569},{"s":"Nas","n":5,"f":15.81,"v":0.0357},{"s":"Nas","n":5,"f":21.83,"v":0.017},{"s":"Nas","n":5,"f":26.92,"v":0.00933},{"s":"Nas","n":5,"f":32.89,"v":0.00485},{"s":"Nas","n":5,"f":74.47,"v":2.89e-4},{"s":"Nas","n":5,"f":254.7,"v":4.16e-6},
      {"s":"Nas","n":6,"f":0.2812,"v":5.72e-3},{"s":"Nas","n":6,"f":0.5,"v":6.84e-3},{"s":"Nas","n":6,"f":0.889,"v":8.61e-3},{"s":"Nas","n":6,"f":1.581,"v":1.067e-2},{"s":"Nas","n":6,"f":2.812,"v":1.245e-2},{"s":"Nas","n":6,"f":3.589,"v":1.294e-2},{"s":"Nas","n":6,"f":5.0,"v":1.245e-2},{"s":"Nas","n":6,"f":6.607,"v":1.012e-2},{"s":"Nas","n":6,"f":8.892,"v":6.35e-3},{"s":"Nas","n":6,"f":12.28,"v":3.03e-3},{"s":"Nas","n":6,"f":15.14,"v":1.66e-3},{"s":"Nas","n":6,"f":18.49,"v":8.63e-4},{"s":"Nas","n":6,"f":41.88,"v":5.14e-5},{"s":"Nas","n":6,"f":143.2,"v":7.4e-7},
      {"s":"Nas","n":7,"f":0.1581,"v":1.017e-3},{"s":"Nas","n":7,"f":0.2812,"v":1.216e-3},{"s":"Nas","n":7,"f":0.5,"v":1.531e-3},{"s":"Nas","n":7,"f":0.889,"v":1.897e-3},{"s":"Nas","n":7,"f":1.581,"v":2.213e-3},{"s":"Nas","n":7,"f":2.018,"v":2.302e-3},{"s":"Nas","n":7,"f":2.812,"v":2.213e-3},{"s":"Nas","n":7,"f":3.715,"v":1.799e-3},{"s":"Nas","n":7,"f":5.0,"v":1.13e-3},{"s":"Nas","n":7,"f":6.905,"v":5.38e-4},{"s":"Nas","n":7,"f":8.513,"v":2.95e-4},{"s":"Nas","n":7,"f":10.4,"v":1.535e-4},{"s":"Nas","n":7,"f":23.55,"v":9.14e-6},{"s":"Nas","n":7,"f":80.53,"v":1.315e-7},
      {"s":"Nas","n":8,"f":0.0889,"v":1.808e-4},{"s":"Nas","n":8,"f":0.1581,"v":2.163e-4},{"s":"Nas","n":8,"f":0.2812,"v":2.723e-4},{"s":"Nas","n":8,"f":0.5,"v":3.373e-4},{"s":"Nas","n":8,"f":0.889,"v":3.936e-4},{"s":"Nas","n":8,"f":1.1347,"v":4.093e-4},{"s":"Nas","n":8,"f":1.581,"v":3.936e-4},{"s":"Nas","n":8,"f":2.089,"v":3.199e-4},{"s":"Nas","n":8,"f":2.812,"v":2.009e-4},{"s":"Nas","n":8,"f":3.883,"v":9.57e-5},{"s":"Nas","n":8,"f":4.787,"v":5.25e-5},{"s":"Nas","n":8,"f":5.848,"v":2.73e-5},{"s":"Nas","n":8,"f":13.24,"v":1.626e-6},{"s":"Nas","n":8,"f":45.28,"v":2.34e-8},
      {"s":"Nas","n":9,"f":0.05,"v":3.21e-5},{"s":"Nas","n":9,"f":0.0889,"v":3.85e-5},{"s":"Nas","n":9,"f":0.1581,"v":4.84e-5},{"s":"Nas","n":9,"f":0.2812,"v":6.0e-5},{"s":"Nas","n":9,"f":0.5,"v":7.0e-5},{"s":"Nas","n":9,"f":0.6381,"v":7.28e-5},{"s":"Nas","n":9,"f":0.889,"v":7.0e-5},{"s":"Nas","n":9,"f":1.1747,"v":5.69e-5},{"s":"Nas","n":9,"f":1.581,"v":3.57e-5},{"s":"Nas","n":9,"f":2.183,"v":1.7e-5},{"s":"Nas","n":9,"f":2.692,"v":9.33e-6},{"s":"Nas","n":9,"f":3.289,"v":4.85e-6},{"s":"Nas","n":9,"f":7.447,"v":2.89e-7},{"s":"Nas","n":9,"f":25.47,"v":4.16e-9},
      {"s":"Nas","n":10,"f":0.0281,"v":5.72e-6},{"s":"Nas","n":10,"f":0.05,"v":6.84e-6},{"s":"Nas","n":10,"f":0.0889,"v":8.61e-6},{"s":"Nas","n":10,"f":0.1581,"v":1.067e-5},{"s":"Nas","n":10,"f":0.2812,"v":1.245e-5},{"s":"Nas","n":10,"f":0.3589,"v":1.294e-5},{"s":"Nas","n":10,"f":0.5,"v":1.245e-5},{"s":"Nas","n":10,"f":0.6607,"v":1.012e-5},{"s":"Nas","n":10,"f":0.889,"v":6.35e-6},{"s":"Nas","n":10,"f":1.228,"v":3.03e-6},{"s":"Nas","n":10,"f":1.514,"v":1.66e-6},{"s":"Nas","n":10,"f":1.849,"v":8.63e-7},{"s":"Nas","n":10,"f":4.188,"v":5.14e-8},{"s":"Nas","n":10,"f":14.32,"v":7.4e-10}
    ],
    "T": [
      {"t":"-5","f":0.875,"v":0.0558},
      {"t":"-6","f":0.875,"v":0.01146},
      {"t":"-7","f":0.875,"v":2.51e-3},
      {"t":"-8","f":0.875,"v":4.99e-4},
      {"t":"-9","f":0.89,"v":8.4e-5},
      {"t":"-10","f":0.806,"v":5.2e-6}
    ]
  },
  "hconcat": [
    {
      "width": 845,
      "height": 1240,
      "title": {
        "text": ["DAT_027.P;\u00a0 2021-11-17 04:04:48Z", "Profile = 05,\u00a0 \u00a0Method = [0\u00a0 0 ]", "2 < P < 9 m speed = 0.16 m s⁻¹, fₕₚ = 0.20 Hz"],
        "lineHeight": 56
      },
      "layer": [
        {
          "layer": [
            {
              "data": {"name": "L"},
              "mark": {"type": "line", "strokeWidth": 6.5, "clip": true},
              "encoding": {
                "x": {
                  "field": "k", "type": "quantitative",
                  "scale": {"type": "log", "domain": [3.1, 1600], "nice": false},
                  "axis": {
                    "title": "k\u00a0 [cpm]",
                    "values": [4,5,6,7,8,9,10,20,30,40,50,60,70,80,90,100,200,300,400,500,600,700,800,900,1000],
                    "labelExpr": "abs(log(datum.value)/LN10 - round(log(datum.value)/LN10)) < 1e-6 ? '10' + ['⁰','¹','²','³'][round(log(datum.value)/LN10)] : ''",
                    "grid": true,
                    "gridColor": {"condition": {"test": "abs(log(datum.value)/LN10 - round(log(datum.value)/LN10)) < 1e-6", "value": "#dcdcdc"}, "value": "#b4b4b4"},
                    "gridDash": {"condition": {"test": "abs(log(datum.value)/LN10 - round(log(datum.value)/LN10)) < 1e-6", "value": []}, "value": [3, 7]},
                    "gridWidth": {"condition": {"test": "abs(log(datum.value)/LN10 - round(log(datum.value)/LN10)) < 1e-6", "value": 3}, "value": 2},
                    "tickSize": {"condition": {"test": "abs(log(datum.value)/LN10 - round(log(datum.value)/LN10)) < 1e-6", "value": -14}, "value": -8},
                    "labelPadding": 20,
                    "titlePadding": 14
                  }
                },
                "y": {
                  "field": "v", "type": "quantitative",
                  "scale": {"type": "log", "domain": [1e-8, 1], "nice": false},
                  "axis": {
                    "title": "Φ (k)\u00a0 [s⁻² cpm⁻¹]",
                    "values": [1e-8,2e-8,3e-8,4e-8,5e-8,6e-8,7e-8,8e-8,9e-8,1e-7,2e-7,3e-7,4e-7,5e-7,6e-7,7e-7,8e-7,9e-7,1e-6,2e-6,3e-6,4e-6,5e-6,6e-6,7e-6,8e-6,9e-6,1e-5,2e-5,3e-5,4e-5,5e-5,6e-5,7e-5,8e-5,9e-5,1e-4,2e-4,3e-4,4e-4,5e-4,6e-4,7e-4,8e-4,9e-4,0.001,0.002,0.003,0.004,0.005,0.006,0.007,0.008,0.009,0.01,0.02,0.03,0.04,0.05,0.06,0.07,0.08,0.09,0.1,0.2,0.3,0.4,0.5,0.6,0.7,0.8,0.9,1],
                    "labelExpr": "abs(log(datum.value)/LN10 - round(log(datum.value)/LN10)) < 1e-6 ? '10' + ['⁻⁸','⁻⁷','⁻⁶','⁻⁵','⁻⁴','⁻³','⁻²','⁻¹','⁰'][round(log(datum.value)/LN10) + 8] : ''",
                    "grid": true,
                    "gridColor": {"condition": {"test": "abs(log(datum.value)/LN10 - round(log(datum.value)/LN10)) < 1e-6", "value": "#dcdcdc"}, "value": "#b4b4b4"},
                    "gridDash": {"condition": {"test": "abs(log(datum.value)/LN10 - round(log(datum.value)/LN10)) < 1e-6", "value": []}, "value": [3, 7]},
                    "gridWidth": {"condition": {"test": "abs(log(datum.value)/LN10 - round(log(datum.value)/LN10)) < 1e-6", "value": 3}, "value": 2},
                    "tickSize": {"condition": {"test": "abs(log(datum.value)/LN10 - round(log(datum.value)/LN10)) < 1e-6", "value": -14}, "value": -8},
                    "labelPadding": 14,
                    "titlePadding": 16
                  }
                },
                "color": {
                  "field": "s", "type": "nominal",
                  "scale": {
                    "domain": ["u1c","u1","e1","u2c","u2","e2","T1","T2","k1","k2"],
                    "range": ["#0072BD","#0072BD","#000000","#D95319","#D95319","#000000","#EDB120","#77AC30","#0072BD","#D95319"]
                  },
                  "legend": {
                    "title": null,
                    "orient": "none",
                    "legendX": 858,
                    "legendY": 0,
                    "labelExpr": "['∇u₁ clean','∇u₁','ϵ=7.1 × 10⁻¹²W kg⁻¹','∇u₂ clean','∇u₂','ϵ=2.6 × 10⁻⁸W kg⁻¹','∇T₁','∇T₂','kₘₐₓ u₁=9cpm','kₘₐₓ u₂=47cpm'][indexof(['u1c','u1','e1','u2c','u2','e2','T1','T2','k1','k2'], datum.value)]",
                    "encode": {
                      "legend": {"update": {"strokeWidth": {"value": 3}}},
                      "symbols": {"update": {
                        "shape": {"signal": "datum.value === 'k1' || datum.value === 'k2' ? 'triangle-up' : 'stroke'"},
                        "fill": {"signal": "datum.value === 'k1' ? '#0072BD' : datum.value === 'k2' ? '#D95319' : 'transparent'"},
                        "strokeWidth": {"signal": "datum.value === 'k1' || datum.value === 'k2' ? 0 : 8"},
                        "size": {"signal": "datum.value === 'k1' || datum.value === 'k2' ? 1000 : 3844"}
                      }}
                    }
                  }
                }
              }
            },
            {
              "data": {"name": "E"},
              "mark": {"type": "line", "strokeWidth": 8, "clip": true, "interpolate": "monotone"},
              "encoding": {
                "x": {"field": "k", "type": "quantitative"},
                "y": {"field": "v", "type": "quantitative"},
                "color": {"field": "s", "type": "nominal"}
              }
            },
            {
              "data": {"name": "M"},
              "mark": {"type": "point", "shape": "triangle-up", "filled": true, "size": 1300, "stroke": "white", "strokeWidth": 3, "opacity": 1, "clip": true},
              "encoding": {
                "x": {"field": "k", "type": "quantitative"},
                "y": {"field": "v", "type": "quantitative"},
                "fill": {"field": "s", "type": "nominal", "scale": {"domain": ["k1","k2"], "range": ["#0072BD","#D95319"]}, "legend": null}
              }
            }
          ]
        },
        {
          "data": {"name": "M"},
          "mark": {"type": "point", "opacity": 0},
          "encoding": {
            "x": {
              "field": "k", "type": "quantitative",
              "scale": {"type": "log", "domain": [3.1, 1600], "nice": false},
              "axis": {
                "orient": "top", "labels": false, "title": null, "grid": false,
                "values": [4,5,6,7,8,9,10,20,30,40,50,60,70,80,90,100,200,300,400,500,600,700,800,900,1000],
                "tickSize": {"condition": {"test": "abs(log(datum.value)/LN10 - round(log(datum.value)/LN10)) < 1e-6", "value": -14}, "value": -8}
              }
            },
            "y": {
              "field": "v", "type": "quantitative",
              "scale": {"type": "log", "domain": [1e-8, 1], "nice": false},
              "axis": {
                "orient": "right", "labels": false, "title": null, "grid": false,
                "values": [1e-8,2e-8,3e-8,4e-8,5e-8,6e-8,7e-8,8e-8,9e-8,1e-7,2e-7,3e-7,4e-7,5e-7,6e-7,7e-7,8e-7,9e-7,1e-6,2e-6,3e-6,4e-6,5e-6,6e-6,7e-6,8e-6,9e-6,1e-5,2e-5,3e-5,4e-5,5e-5,6e-5,7e-5,8e-5,9e-5,1e-4,2e-4,3e-4,4e-4,5e-4,6e-4,7e-4,8e-4,9e-4,0.001,0.002,0.003,0.004,0.005,0.006,0.007,0.008,0.009,0.01,0.02,0.03,0.04,0.05,0.06,0.07,0.08,0.09,0.1,0.2,0.3,0.4,0.5,0.6,0.7,0.8,0.9,1],
                "tickSize": {"condition": {"test": "abs(log(datum.value)/LN10 - round(log(datum.value)/LN10)) < 1e-6", "value": -14}, "value": -8}
              }
            }
          }
        }
      ],
      "resolve": {"axis": {"x": "independent", "y": "independent"}}
    },
    {
      "width": 912,
      "height": 1240,
      "title": {
        "text": ["DAT_027.P;\u00a0 2021-11-17 04:04:48Z", "Profile = 05", "2 < P < 9 m\u00a0 fₕₚ = 0.20 Hz"],
        "lineHeight": 50
      },
      "layer": [
        {
          "layer": [
            {
              "data": {"name": "R"},
              "mark": {"type": "line", "strokeWidth": 5.5, "clip": true},
              "encoding": {
                "x": {
                  "field": "f", "type": "quantitative",
                  "scale": {"type": "log", "domain": [0.5, 256], "nice": false},
                  "axis": {
                    "title": "f\u00a0 [Hz]",
                    "values": [0.5,0.6,0.7,0.8,0.9,1,2,3,4,5,6,7,8,9,10,20,30,40,50,60,70,80,90,100,200],
                    "labelExpr": "abs(log(datum.value)/LN10 - round(log(datum.value)/LN10)) < 1e-6 ? '10' + ['⁰','¹','²'][round(log(datum.value)/LN10)] : ''",
                    "grid": false,
                    "tickSize": {"condition": {"test": "abs(log(datum.value)/LN10 - round(log(datum.value)/LN10)) < 1e-6", "value": -14}, "value": -8},
                    "labelPadding": 20,
                    "titlePadding": 14
                  }
                },
                "y": {
                  "field": "v", "type": "quantitative",
                  "scale": {"type": "log", "domain": [1.08e-9, 10], "nice": false},
                  "axis": {
                    "title": "[Variance Hz⁻¹]",
                    "values": [2e-9,3e-9,4e-9,5e-9,6e-9,7e-9,8e-9,9e-9,1e-8,2e-8,3e-8,4e-8,5e-8,6e-8,7e-8,8e-8,9e-8,1e-7,2e-7,3e-7,4e-7,5e-7,6e-7,7e-7,8e-7,9e-7,1e-6,2e-6,3e-6,4e-6,5e-6,6e-6,7e-6,8e-6,9e-6,1e-5,2e-5,3e-5,4e-5,5e-5,6e-5,7e-5,8e-5,9e-5,1e-4,2e-4,3e-4,4e-4,5e-4,6e-4,7e-4,8e-4,9e-4,0.001,0.002,0.003,0.004,0.005,0.006,0.007,0.008,0.009,0.01,0.02,0.03,0.04,0.05,0.06,0.07,0.08,0.09,0.1,0.2,0.3,0.4,0.5,0.6,0.7,0.8,0.9,1,2,3,4,5,6,7,8,9,10],
                    "labelExpr": "abs(log(datum.value)/LN10 - round(log(datum.value)/LN10)) < 1e-6 && round(log(datum.value)/LN10) % 2 == 0 ? '10' + ['⁻⁸','⁻⁷','⁻⁶','⁻⁵','⁻⁴','⁻³','⁻²','⁻¹','⁰'][round(log(datum.value)/LN10) + 8] : ''",
                    "grid": false,
                    "tickSize": {"condition": {"test": "abs(log(datum.value)/LN10 - round(log(datum.value)/LN10)) < 1e-6", "value": -14}, "value": -8},
                    "labelPadding": 8,
                    "titlePadding": 24
                  }
                },
                "color": {
                  "field": "s", "type": "nominal",
                  "scale": {
                    "domain": ["Ax","Ay","u1","u2","T1","T2","Nas"],
                    "range": ["#1EE3E8","#12E012","#0072BD","#D95319","#EDB120","#77AC30","#000000"]
                  },
                  "legend": {
                    "title": null,
                    "orient": "none",
                    "legendX": 929,
                    "legendY": 0,
                    "rowPadding": 11,
                    "labelExpr": "['Aₓ','Aᵧ','∇u₁','∇u₂','∇T₁','∇T₂','Nasmyth'][indexof(['Ax','Ay','u1','u2','T1','T2','Nas'], datum.value)]",
                    "encode": {
                      "legend": {"update": {"strokeWidth": {"value": 3}}}
                    }
                  }
                }
              }
            },
            {
              "data": {"name": "N"},
              "mark": {"type": "line", "strokeWidth": 8, "clip": true, "interpolate": "monotone"},
              "encoding": {
                "x": {"field": "f", "type": "quantitative"},
                "y": {"field": "v", "type": "quantitative"},
                "detail": {"field": "n", "type": "nominal"},
                "color": {"field": "s", "type": "nominal"}
              }
            },
            {
              "data": {"name": "T"},
              "mark": {"type": "text", "fontSize": 36, "color": "black", "align": "center", "baseline": "middle", "font": "Liberation Sans, DejaVu Sans"},
              "encoding": {
                "x": {"field": "f", "type": "quantitative"},
                "y": {"field": "v", "type": "quantitative"},
                "text": {"field": "t"}
              }
            }
          ]
        },
        {
          "data": {"name": "T"},
          "mark": {"type": "point", "opacity": 0},
          "encoding": {
            "x": {
              "field": "f", "type": "quantitative",
              "scale": {"type": "log", "domain": [0.5, 256], "nice": false},
              "axis": {
                "orient": "top", "labels": false, "title": null, "grid": false,
                "values": [0.5,0.6,0.7,0.8,0.9,1,2,3,4,5,6,7,8,9,10,20,30,40,50,60,70,80,90,100,200],
                "tickSize": {"condition": {"test": "abs(log(datum.value)/LN10 - round(log(datum.value)/LN10)) < 1e-6", "value": -14}, "value": -8}
              }
            },
            "y": {
              "field": "v", "type": "quantitative",
              "scale": {"type": "log", "domain": [1.08e-9, 10], "nice": false},
              "axis": {
                "orient": "right", "labels": false, "title": null, "grid": false,
                "values": [2e-9,3e-9,4e-9,5e-9,6e-9,7e-9,8e-9,9e-9,1e-8,2e-8,3e-8,4e-8,5e-8,6e-8,7e-8,8e-8,9e-8,1e-7,2e-7,3e-7,4e-7,5e-7,6e-7,7e-7,8e-7,9e-7,1e-6,2e-6,3e-6,4e-6,5e-6,6e-6,7e-6,8e-6,9e-6,1e-5,2e-5,3e-5,4e-5,5e-5,6e-5,7e-5,8e-5,9e-5,1e-4,2e-4,3e-4,4e-4,5e-4,6e-4,7e-4,8e-4,9e-4,0.001,0.002,0.003,0.004,0.005,0.006,0.007,0.008,0.009,0.01,0.02,0.03,0.04,0.05,0.06,0.07,0.08,0.09,0.1,0.2,0.3,0.4,0.5,0.6,0.7,0.8,0.9,1,2,3,4,5,6,7,8,9,10],
                "tickSize": {"condition": {"test": "abs(log(datum.value)/LN10 - round(log(datum.value)/LN10)) < 1e-6", "value": -14}, "value": -8}
              }
            }
          }
        }
      ],
      "resolve": {"axis": {"x": "independent", "y": "independent"}}
    }
  ]
}
